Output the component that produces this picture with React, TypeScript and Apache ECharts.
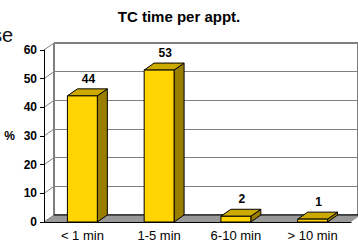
import { useEffect, useRef } from "react";
import * as echarts from "echarts";

const categories = ["< 1 min", "1-5 min", "6-10 min", "> 10 min"];
const values = [44, 53, 2, 1];
const yTicks = [0, 10, 20, 30, 40, 50, 60];
const titleText = "TC time per appt.";
const yName = "%";
const cutText = "se";

const DX = 10;
const DY = -7;
const FONT = "Liberation Sans, Arial, Helvetica, sans-serif";

export default function App() {
  const ref = useRef<HTMLDivElement>(null);
  useEffect(() => {
    document.body.style.margin = "0";
    const chart = echarts.init(ref.current!, null, { renderer: "svg" });
    chart.setOption({
      animation: false,
      backgroundColor: "#fff",
      title: {
        text: titleText,
        left: "center",
        top: 4,
        textStyle: { fontSize: 15, fontWeight: "bold", fontFamily: FONT, color: "#000" },
      },
      graphic: [
        {
          type: "text",
          x: 13,
          y: 25,
          style: { text: cutText, fontSize: 20, fontFamily: FONT, fill: "#111", textAlign: "right" },
        },
      ],
      grid: [
        { left: 44, top: 50, width: 307, height: 172 },
        {
          left: 54,
          top: 43,
          width: 307,
          height: 172,
          show: true,
          borderColor: "#000",
          borderWidth: 1,
          backgroundColor: "#fff",
        },
      ],
      xAxis: [
        {
          gridIndex: 0,
          type: "category",
          data: categories,
          z: 5,
          axisLine: { lineStyle: { color: "#000", width: 1 } },
          axisTick: { length: 4, lineStyle: { color: "#000" } },
          axisLabel: { color: "#000", fontSize: 13, fontFamily: FONT, margin: 7 },
        },
        { gridIndex: 1, type: "category", data: categories, show: false },
      ],
      yAxis: [
        {
          gridIndex: 0,
          type: "value",
          min: 0,
          max: 60,
          interval: 10,
          z: 5,
          axisLine: { show: true, lineStyle: { color: "#000" } },
          axisTick: { show: true, length: 4, lineStyle: { color: "#000" } },
          axisLabel: { fontWeight: "bold", fontSize: 12, color: "#000", fontFamily: FONT, margin: 7 },
          splitLine: { show: false },
          name: yName,
          nameLocation: "middle",
          nameRotate: 0,
          nameGap: 29,
          nameTextStyle: { fontWeight: "bold", fontSize: 12, color: "#000", fontFamily: FONT },
        },
        {
          gridIndex: 1,
          type: "value",
          min: 0,
          max: 60,
          interval: 10,
          axisLine: { show: false },
          axisTick: { show: false },
          axisLabel: { show: false },
          splitLine: { lineStyle: { color: "#808080", width: 1 } },
        },
      ],
      series: [
        {
          type: "custom",
          xAxisIndex: 0,
          yAxisIndex: 0,
          z: 1,
          silent: true,
          data: [[0, 0]],
          renderItem: (params: any, api: any) => {
            const cs = params.coordSys;
            const yb = api.coord([0, 0])[1];
            const x0 = cs.x;
            const x1 = cs.x + cs.width;
            return {
              type: "group",
              children: [
                {
                  type: "polygon",
                  shape: {
                    points: [
                      [x0, yb],
                      [x1, yb],
                      [x1 + DX, yb + DY],
                      [x0 + DX, yb + DY],
                    ],
                  },
                  style: { fill: "#999999", stroke: "none" },
                },
                {
                  type: "line",
                  shape: { x1: x0 + DX, y1: yb + DY, x2: x1 + DX, y2: yb + DY },
                  style: { stroke: "#000", lineWidth: 1 },
                },
              ],
            };
          },
        },
        {
          type: "custom",
          xAxisIndex: 0,
          yAxisIndex: 0,
          z: 1,
          silent: true,
          data: yTicks.map((v) => [0, v]),
          renderItem: (params: any, api: any) => {
            const cs = params.coordSys;
            const y = api.coord([0, api.value(1)])[1];
            return {
              type: "line",
              shape: { x1: cs.x, y1: y, x2: cs.x + DX, y2: y + DY },
              style: { stroke: "#808080", lineWidth: 1 },
            };
          },
        },
        {
          type: "custom",
          xAxisIndex: 0,
          yAxisIndex: 0,
          z: 3,
          silent: true,
          data: values.map((v, i) => [i, v]),
          renderItem: (params: any, api: any) => {
            const i = api.value(0);
            const v = api.value(1);
            const base = api.coord([i, 0]);
            const top = api.coord([i, v]);
            const w = api.size([1, 0])[0] * 0.39;
            const xl = base[0] - w / 2;
            const xr = base[0] + w / 2;
            const yb = base[1];
            const yt = top[1];
            const stroke = { stroke: "#000", lineWidth: 1, lineJoin: "round" };
            return {
              type: "group",
              children: [
                {
                  type: "polygon",
                  shape: {
                    points: [
                      [xr, yt],
                      [xr + DX, yt + DY],
                      [xr + DX, yb + DY],
                      [xr, yb],
                    ],
                  },
                  style: { fill: "#9A7E00", ...stroke },
                },
                {
                  type: "polygon",
                  shape: {
                    points: [
                      [xl, yt],
                      [xl + DX, yt + DY],
                      [xr + DX, yt + DY],
                      [xr, yt],
                    ],
                  },
                  style: { fill: "#CCAA00", ...stroke },
                },
                {
                  type: "rect",
                  shape: { x: xl, y: yt, width: w, height: yb - yt },
                  style: { fill: "#FFD400", ...stroke },
                },
                {
                  type: "text",
                  x: base[0] + DX / 2 + 1,
                  y: yt + DY - 10,
                  style: {
                    text: String(v),
                    fontSize: 12,
                    fontWeight: "bold",
                    fontFamily: FONT,
                    fill: "#000",
                    textAlign: "center",
                    textVerticalAlign: "middle",
                  },
                },
              ],
            };
          },
        },
      ],
    });
    return () => chart.dispose();
  }, []);
  return <div ref={ref} style={{ width: 358, height: 244 }} />;
}
